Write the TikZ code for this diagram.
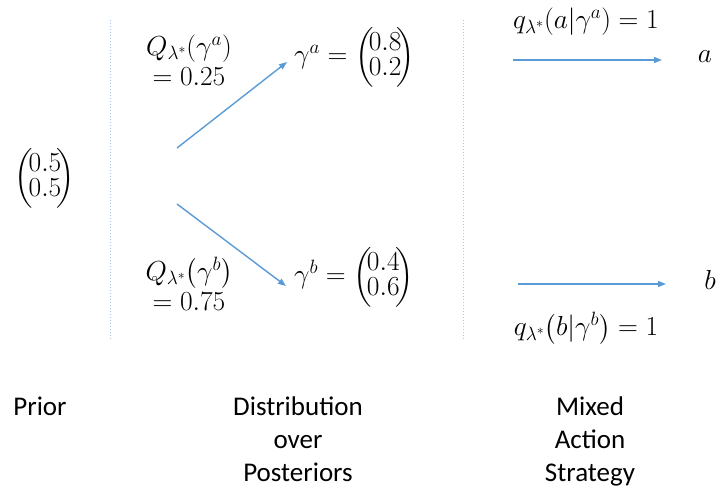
\RequirePackage{fix-cm}
\documentclass[tikz,border=0pt]{standalone}
\usepackage{amsmath}
\usepackage{fontspec}
\setmainfont{Carlito}
\usetikzlibrary{arrows.meta}
\definecolor{arrblue}{RGB}{91,155,213}
\definecolor{dotblue}{RGB}{170,200,230}
\newcommand{\vecpair}[2]{\left(\!\begin{array}{@{}c@{}}#1\\[-5pt]#2\end{array}\!\right)}
\tikzset{
  conn/.style={draw=arrblue, line width=1.4pt, -{Triangle[length=8pt,width=6pt]}},
  sep/.style={draw=dotblue, line width=1pt, dotted},
  lbl/.style={inner sep=0pt, font=\fontsize{27.5}{30}\selectfont, align=center},
  captxt/.style={inner sep=1pt, font=\fontsize{27}{33}\selectfont, align=center, anchor=north}
}
\begin{document}
\begin{tikzpicture}[x=1pt,y=-1pt]
\useasboundingbox (0,0) rectangle (719,491);
\draw[sep] (110,20) -- (110,340);
\draw[sep] (463,20) -- (463,340);
\node[lbl] (prior) at (45,178) {$\vecpair{0.5}{0.5}$};
\node[lbl] (qa) at (189,60) {$Q_{\lambda^*}(\gamma^a)$\\$=0.25$};
\node[lbl] (qb) at (189,284) {$Q_{\lambda^*}\bigl(\gamma^b\bigr)$\\$=0.75$};
\node[lbl, anchor=west] (ga) at (294,57) {$\gamma^a=\vecpair{0.8}{0.2}$};
\node[lbl, anchor=west] (gb) at (294,277) {$\gamma^b=\vecpair{0.4}{0.6}$};
\coordinate (s1) at (177,148);
\coordinate (e1) at (287,62);
\coordinate (s2) at (177,204);
\coordinate (e2) at (286,286);
\draw[conn] (s1) -- (e1);
\draw[conn] (s2) -- (e2);
\node[lbl] (qqa) at (586,22) {$q_{\lambda^*}(a|\gamma^a)=1$};
\node[lbl] (qqb) at (586,329) {$q_{\lambda^*}\bigl(b|\gamma^b\bigr)=1$};
\coordinate (ta) at (513,60);
\coordinate (ea) at (662,60);
\coordinate (tb) at (518,284);
\coordinate (eb) at (666,284);
\node[lbl] (a) at (705,57) {$a$};
\node[lbl] (b) at (710,280) {$b$};
\draw[conn] (ta) -- (ea);
\draw[conn] (tb) -- (eb);
\node[captxt] (c1) at (40,396) {Prior};
\node[captxt] (c2) at (298,396) {Distribution\\over\\Posteriors};
\node[captxt] (c3) at (590,396) {Mixed\\Action\\Strategy};
\end{tikzpicture}
\end{document}
